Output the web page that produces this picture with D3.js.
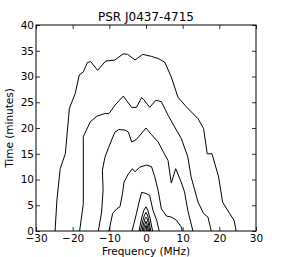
<!DOCTYPE html>
<html>
<head>
<meta charset="utf-8">
<script src="https://cdn.jsdelivr.net/npm/d3@7"></script>
<style>
  body { margin: 0; background: #fff; }
  text { font-family: "DejaVu Sans", sans-serif; fill: #000; }
</style>
</head>
<body>
<svg id="chart"></svg>
<script>
// contour lines: [frequency MHz, time minutes]
const contour1 = [[-24.8,0],[-24.3,6],[-23.4,12.1],[-22.0,15],[-20.9,23.8],[-19.3,26.7],[-18.2,30.3],
  [-17.1,30.9],[-16.0,32.7],[-15.1,32.9],[-13.2,31.2],[-11.0,33.0],[-8.5,33.2],[-6.2,34.4],[-5.0,34.3],
  [-3.0,33.2],[-0.9,34.3],[1.5,33.9],[3.3,33.5],[5.1,32.8],[6.9,29.9],[8.7,26.0],[11.0,24.1],
  [14.2,21.8],[15.7,19.9],[16.7,15.0],[18.0,15.0],[19.8,10.5],[20.9,5.6],[22.8,3.4],[24.0,2.1],[24.6,0]];
const contour2 = [[-18.1,0],[-17.1,5.3],[-17.1,18.3],[-15.2,21.2],[-13.4,22.3],[-11.2,22.8],[-10.1,22.8],
  [-8.5,24.4],[-6.2,26.2],[-3.9,24.0],[-2.6,24.0],[-1.2,25.9],[-0.6,25.5],[1.0,24.0],[2.7,25.4],[4.2,25.1],
  [6.0,22.5],[7.8,20.2],[9.6,18.0],[11.4,14.4],[12.3,10.5],[14.2,5.6],[15.7,3.4],[16.9,2.7],[17.8,0]];
const contour3 = [[-13.0,0],[-12.1,3.7],[-11.7,8.0],[-11.9,11.8],[-11.2,14.3],[-10.2,16.2],[-8.5,19.2],
  [-7.4,19.7],[-5.7,19.6],[-4.8,19.2],[-3.9,17.3],[-2.6,17.8],[0,20.0],[1.5,18.7],[3.3,17.3],[4.7,15.4],
  [6.0,13.7],[6.9,9.3],[8.1,12.1],[9.6,9.5],[10.5,7.6],[11.4,4.0],[12.8,0]];
const contour4 = [[-10.1,0],[-9.1,3.4],[-8.0,4.3],[-7.1,4.7],[-6.4,7.3],[-6.0,9.5],[-4.8,11.1],[-3.7,12.1],
  [-3.0,11.5],[-1.7,12.4],[0.1,12.8],[1.5,12.5],[2.4,10.5],[3.3,7.9],[4.2,4.3],[5.6,2.9],[6.9,2.7],
  [8.3,2.1],[9.6,0.8],[9.9,0]];
const contour5 = [[-3.8,0],[-2.6,3.4],[-1.9,5.6],[-1.2,7.5],[0,7.3],[1.0,6.9],[1.9,4.0],[2.9,2.1],[3.6,0]];
const contour6 = [[-1.9,0],[-1.2,2.5],[-0.6,4.0],[0,4.7],[0.5,4.0],[1.1,2.5],[1.8,0]];
const contour7 = [[-1.5,0],[-0.9,2.0],[-0.4,3.1],[0,3.6],[0.4,3.1],[0.8,2.0],[1.3,0]];
const contour8 = [[-1.1,0],[-0.6,1.6],[-0.25,2.4],[0,2.7],[0.3,2.4],[0.6,1.6],[1.0,0]];
const contour9 = [[-0.75,0],[-0.4,1.1],[0,1.9],[0.35,1.1],[0.7,0]];
const contour10 = [[-0.4,0],[-0.2,0.6],[0,1.1],[0.2,0.6],[0.35,0]];
const contours = [contour1, contour2, contour3, contour4, contour5,
  contour6, contour7, contour8, contour9, contour10];

const xTicks = [-30, -20, -10, 0, 10, 20, 30];
const yTicks = [0, 5, 10, 15, 20, 25, 30, 35, 40];

const width = 285;
const height = 257;
const margin = { top: 25, right: 29, bottom: 26, left: 36 };

const svg = d3.select("#chart").attr("width", width).attr("height", height);

const x = d3.scaleLinear().domain([-30, 30]).range([margin.left, width - margin.right]);
const y = d3.scaleLinear().domain([0, 40]).range([height - margin.bottom, margin.top]);

const fmt = d => d < 0 ? "\u2212" + Math.abs(d) : String(d);

// contours
const line = d3.line().x(d => x(d[0])).y(d => y(d[1]));
svg.append("g")
  .attr("fill", "none")
  .attr("stroke", "#000")
  .attr("stroke-width", 1)
  .selectAll("path")
  .data(contours)
  .join("path")
  .attr("d", line);

// axes, classic matplotlib look: ticks inside on all sides
const innerW = width - margin.left - margin.right;
const innerH = height - margin.top - margin.bottom;

svg.append("g")
  .attr("transform", `translate(0,${height - margin.bottom})`)
  .call(d3.axisBottom(x).tickValues(xTicks).tickFormat(fmt).tickSizeInner(-4).tickSizeOuter(0).tickPadding(4));
svg.append("g")
  .attr("transform", `translate(0,${margin.top})`)
  .call(d3.axisTop(x).tickValues(xTicks).tickFormat("").tickSizeInner(-4).tickSizeOuter(0));
svg.append("g")
  .attr("transform", `translate(${margin.left},0)`)
  .call(d3.axisLeft(y).tickValues(yTicks).tickFormat(fmt).tickSizeInner(-4).tickSizeOuter(0).tickPadding(2));
svg.append("g")
  .attr("transform", `translate(${width - margin.right},0)`)
  .call(d3.axisRight(y).tickValues(yTicks).tickFormat("").tickSizeInner(-4).tickSizeOuter(0));

svg.selectAll(".domain").remove();
svg.selectAll(".tick line").attr("stroke", "#000").attr("stroke-width", 0.8);
svg.selectAll(".tick text").attr("font-family", "DejaVu Sans").attr("font-size", 10.5).attr("fill", "#000");

svg.append("rect")
  .attr("x", margin.left).attr("y", margin.top)
  .attr("width", innerW).attr("height", innerH)
  .attr("fill", "none").attr("stroke", "#000").attr("stroke-width", 1);

// labels
svg.append("text")
  .attr("x", x(0)).attr("y", margin.top - 4)
  .attr("text-anchor", "middle").attr("font-size", 12)
  .text("PSR J0437-4715");
svg.append("text")
  .attr("x", x(0)).attr("y", height - 2)
  .attr("text-anchor", "middle").attr("font-size", 10.5)
  .text("Frequency (MHz)");
svg.append("text")
  .attr("transform", `translate(13,${y(20)}) rotate(-90)`)
  .attr("text-anchor", "middle").attr("font-size", 10.5)
  .text("Time (minutes)");
</script>
</body>
</html>
